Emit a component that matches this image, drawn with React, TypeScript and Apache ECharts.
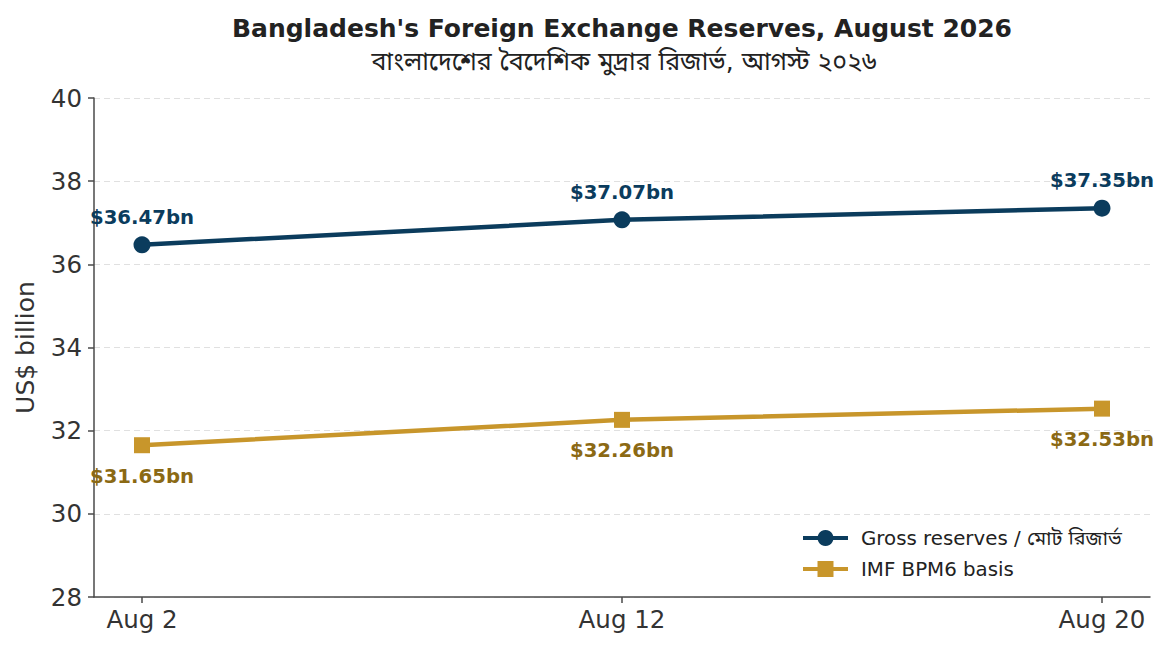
import React, { useEffect, useRef } from "react";
import * as echarts from "echarts";

const categories = ["Aug 2", "Aug 12", "Aug 20"];
const grossReserves = [36.47, 37.07, 37.35];
const imfReserves = [31.65, 32.26, 32.53];
const yTicks = { min: 28, max: 40, interval: 2 };

const FONT = '"DejaVu Sans", "Noto Sans Bengali", "Lohit Bengali", "FreeSans", sans-serif';
const NAVY = "#0b3c5d";
const GOLD = "#c8962b";
const GOLD_LABEL = "#8b6914";

export default function App() {
  const ref = useRef<HTMLDivElement>(null);
  useEffect(() => {
    if (!ref.current) return;
    const chart = echarts.init(ref.current, undefined, { renderer: "svg" });
    const option: any = {
      animation: false,
      backgroundColor: "#ffffff",
      textStyle: { fontFamily: FONT },
      title: [
        {
          text: "Bangladesh's Foreign Exchange Reserves, August 2026",
          left: 617,
          top: 11,
          textAlign: "center",
          textStyle: { fontFamily: FONT, fontSize: 25, fontWeight: "bold", color: "#222" },
        },
        {
          text: "বাংলাদেশের বৈদেশিক মুদ্রার রিজার্ভ, আগস্ট ২০২৬",
          left: 619,
          top: 44,
          textAlign: "center",
          textStyle: { fontFamily: FONT, fontSize: 25, fontWeight: "normal", color: "#222" },
        },
      ],
      grid: { left: 94, right: 20, top: 98, bottom: 54, containLabel: false },
      legend: {
        orient: "vertical",
        left: 796,
        top: 523,
        itemWidth: 45,
        itemHeight: 20,
        itemGap: 11,
        lineStyle: { width: 4 },
        textStyle: { fontFamily: FONT, fontSize: 19.8, color: "#222", padding: [0, 0, 0, 8] },
        data: ["Gross reserves / মোট রিজার্ভ", "IMF BPM6 basis"],
      },
      xAxis: {
        type: "value",
        min: -0.1,
        max: 2.1,
        splitLine: { show: false },
        axisLine: { show: true, onZero: false, lineStyle: { color: "#4a4a4a", width: 1.5 } },
        axisTick: { show: true, length: 6, lineStyle: { color: "#4a4a4a", width: 1.5 }, customValues: [0, 1, 2] },
        axisLabel: {
          customValues: [0, 1, 2],
          fontFamily: FONT,
          fontSize: 24.5,
          color: "#333",
          margin: 10,
          formatter: (v: number) => categories[Math.round(v)] ?? "",
        },
      },
      yAxis: {
        type: "value",
        min: yTicks.min,
        max: yTicks.max,
        interval: yTicks.interval,
        name: "US$ billion",
        nameLocation: "middle",
        nameGap: 56,
        nameTextStyle: { fontFamily: FONT, fontSize: 25, color: "#333" },
        axisLine: { show: true, onZero: false, lineStyle: { color: "#4a4a4a", width: 1.5 } },
        axisTick: { show: true, length: 6, lineStyle: { color: "#4a4a4a", width: 1.5 } },
        axisLabel: { fontFamily: FONT, fontSize: 24.5, color: "#333", margin: 12 },
        splitLine: { show: true, lineStyle: { color: "#e0e0e0", type: [6, 4], width: 1 } },
      },
      series: [
        {
          name: "Gross reserves / মোট রিজার্ভ",
          type: "line",
          data: grossReserves.map((v, i) => [i, v]),
          symbol: "circle",
          symbolSize: 17,
          lineStyle: { color: NAVY, width: 4.5 },
          itemStyle: { color: NAVY },
          label: {
            show: true,
            position: "top",
            distance: 9,
            formatter: (p: any) => "$" + p.value[1].toFixed(2) + "bn",
            fontFamily: FONT,
            fontSize: 19.7,
            fontWeight: "bold",
            color: NAVY,
          },
          z: 3,
        },
        {
          name: "IMF BPM6 basis",
          type: "line",
          data: imfReserves.map((v, i) => [i, v]),
          symbol: "rect",
          symbolSize: 16,
          lineStyle: { color: GOLD, width: 4.5 },
          itemStyle: { color: GOLD },
          label: {
            show: true,
            position: "bottom",
            distance: 13,
            formatter: (p: any) => "$" + p.value[1].toFixed(2) + "bn",
            fontFamily: FONT,
            fontSize: 19.7,
            fontWeight: "bold",
            color: GOLD_LABEL,
          },
          z: 3,
        },
      ],
    };
    chart.setOption(option);
    return () => chart.dispose();
  }, []);
  return (
    <div
      ref={ref}
      style={{ position: "fixed", left: 0, top: 0, width: 1170, height: 651, background: "#fff" }}
    />
  );
}
